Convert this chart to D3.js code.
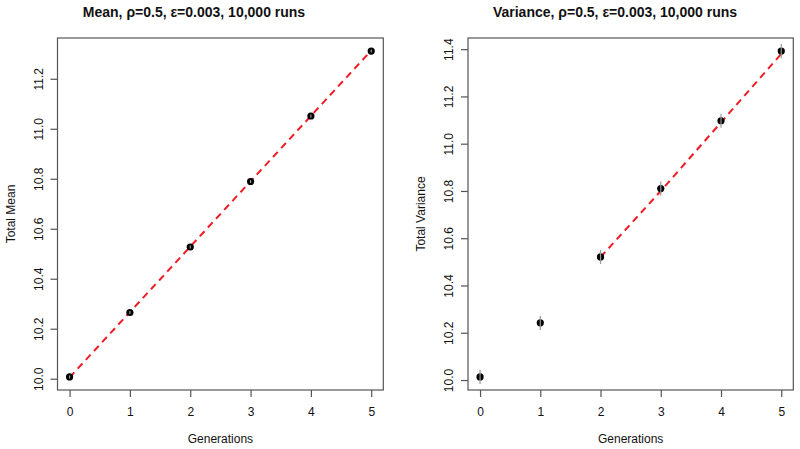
<!DOCTYPE html>
<html>
<head>
<meta charset="utf-8">
<script src="https://cdn.jsdelivr.net/npm/d3@7"></script>
<style>
  body { margin: 0; background: #fff; }
  svg { display: block; }
  text { font-family: "Liberation Sans", Arial, sans-serif; fill: #111; }
</style>
</head>
<body>
<svg id="chart" width="800" height="449"></svg>
<script>
// ---- data ----
const generations = [0, 1, 2, 3, 4, 5];
const meanValues = [10.007, 10.265, 10.527, 10.789, 11.051, 11.311];
const meanSE = [0.006, 0.006, 0.006, 0.006, 0.006, 0.006];
const meanPredGens = [0, 5];
const meanPred = [10.005, 11.313];
const varValues = [10.013, 10.242, 10.521, 10.810, 11.097, 11.392];
const varSE = [0.03, 0.03, 0.03, 0.03, 0.03, 0.03];
const varPredGens = [2, 3, 4, 5];
const varPred = [10.52, 10.80, 11.09, 11.38];
const xTicks = [0, 1, 2, 3, 4, 5];
const meanYTicks = [10.0, 10.2, 10.4, 10.6, 10.8, 11.0, 11.2];
const varYTicks = [10.0, 10.2, 10.4, 10.6, 10.8, 11.0, 11.2, 11.4];
const titles = ["Mean, \u03C1=0.5, \u03B5=0.003, 10,000 runs", "Variance, \u03C1=0.5, \u03B5=0.003, 10,000 runs"];
const yLabels = ["Total Mean", "Total Variance"];
const xLabel = "Generations";

const svg = d3.select("#chart");

function panel(cfg) {
  const {left, right, top, bottom, values, se, predG, pred, yTicks, title, yLabel, titleX, yLabX, ylimFromPoints} = cfg;
  const lo = d3.min(values), hi = d3.max(values);
  const pad = (hi - lo) * 0.04;
  const x = d3.scaleLinear().domain([-0.2, 5.2]).range([left, right]);
  const y = d3.scaleLinear().domain([lo - pad, hi + pad]).range([bottom, top]);
  const g = svg.append("g");
  const axisColor = "#555";

  // box
  g.append("rect").attr("x", left).attr("y", top)
    .attr("width", right - left).attr("height", bottom - top)
    .attr("fill", "none").attr("stroke", axisColor).attr("stroke-width", 1.2);

  // x axis
  const xa = g.append("g").attr("transform", `translate(0,${bottom})`)
    .call(d3.axisBottom(x).tickValues(xTicks).tickSize(7).tickPadding(10).tickFormat(d3.format("d")));
  xa.select(".domain").remove();
  xa.selectAll("line").attr("stroke", axisColor).attr("stroke-width", 1.2);
  xa.selectAll("text").attr("font-size", 12).attr("fill", "#111")
    .attr("font-family", "Liberation Sans, Arial, sans-serif");

  // y axis
  const ya = g.append("g").attr("transform", `translate(${left},0)`)
    .call(d3.axisLeft(y).tickValues(yTicks).tickSize(7).tickFormat(d3.format(".1f")));
  ya.select(".domain").remove();
  ya.selectAll("line").attr("stroke", axisColor).attr("stroke-width", 1.2);
  ya.selectAll("text")
    .attr("x", null).attr("dy", null)
    .attr("transform", "translate(-15,0) rotate(-90)")
    .attr("text-anchor", "middle")
    .attr("font-size", 12).attr("fill", "#111")
    .attr("font-family", "Liberation Sans, Arial, sans-serif");

  // red dashed prediction line
  const line = d3.line().x(d => x(d[0])).y(d => y(d[1]));
  g.append("path").datum(predG.map((gg, i) => [gg, pred[i]]))
    .attr("d", line).attr("fill", "none")
    .attr("stroke", "#ee1c25").attr("stroke-width", 2)
    .attr("stroke-dasharray", "7,5");

  // points
  g.selectAll("circle.pt").data(values).join("circle")
    .attr("class", "pt")
    .attr("cx", (d, i) => x(generations[i])).attr("cy", d => y(d))
    .attr("r", 3.6).attr("fill", "#000");

  // error bars (drawn over points)
  g.selectAll("line.err").data(values).join("line")
    .attr("class", "err")
    .attr("x1", (d, i) => x(generations[i])).attr("x2", (d, i) => x(generations[i]))
    .attr("y1", (d, i) => y(d - se[i])).attr("y2", (d, i) => y(d + se[i]))
    .attr("stroke", "#999").attr("stroke-width", 1.2);

  // title
  g.append("text").attr("x", titleX).attr("y", 17)
    .attr("text-anchor", "middle").attr("font-weight", "bold").attr("font-size", 14)
    .text(title);

  // x label
  g.append("text").attr("x", (left + right) / 2).attr("y", 443)
    .attr("text-anchor", "middle").attr("font-size", 12).text(xLabel);

  // y label
  g.append("text").attr("transform", `translate(${yLabX},${(top + bottom) / 2}) rotate(-90)`)
    .attr("text-anchor", "middle").attr("font-size", 12).text(yLabel);
}

panel({left: 57.5, right: 383.3, top: 38, bottom: 390, values: meanValues, se: meanSE,
  predG: meanPredGens, pred: meanPred, yTicks: meanYTicks, title: titles[0], yLabel: yLabels[0],
  titleX: 194, yLabX: 15});
panel({left: 468, right: 793.3, top: 38, bottom: 390, values: varValues, se: varSE,
  predG: varPredGens, pred: varPred, yTicks: varYTicks, title: titles[1], yLabel: yLabels[1],
  titleX: 615, yLabX: 425});
</script>
</body>
</html>
